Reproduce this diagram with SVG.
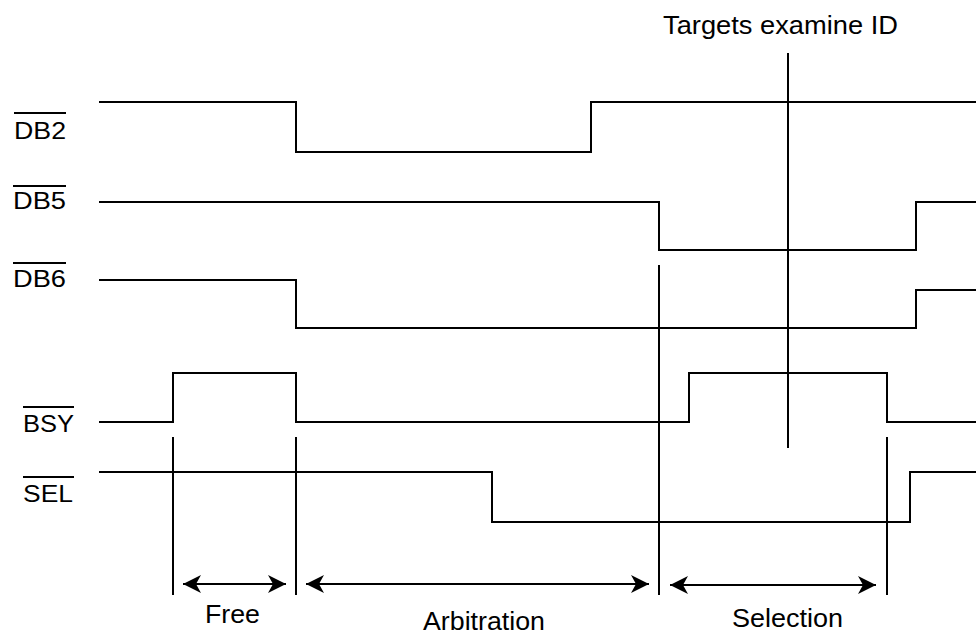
<svg xmlns="http://www.w3.org/2000/svg" width="976" height="635" viewBox="0 0 976 635">
<style>
.sig{fill:none;stroke:#000;stroke-width:2;stroke-linejoin:miter}
.mk{stroke:#000;stroke-width:2}
.ol{stroke:#000;stroke-width:2}
.lbl{font-family:"Liberation Sans",Arial,sans-serif;font-size:23px;fill:#000}
.cap{font-family:"Liberation Sans",Arial,sans-serif;font-size:26px;fill:#000}
.arr{stroke:#000;stroke-width:2;marker-start:url(#ah);marker-end:url(#ah)}
</style>
<defs>
<marker id="ah" viewBox="0 0 18 18" refX="18" refY="9" markerWidth="18" markerHeight="18" markerUnits="userSpaceOnUse" orient="auto-start-reverse">
<path d="M0,0 L18,9 L0,18 L5,9 Z" fill="#000"/>
</marker>
</defs>
<rect width="976" height="635" fill="#fff"/>
<g id="label-db2"><line class="ol" x1="14" y1="113" x2="66" y2="113"/><text class="lbl" x="14" y="139" textLength="52" lengthAdjust="spacingAndGlyphs">DB2</text></g>
<g id="label-db5"><line class="ol" x1="13" y1="186" x2="66" y2="186"/><text class="lbl" x="13" y="209" textLength="53" lengthAdjust="spacingAndGlyphs">DB5</text></g>
<g id="label-db6"><line class="ol" x1="13" y1="263" x2="66" y2="263"/><text class="lbl" x="13" y="287" textLength="53" lengthAdjust="spacingAndGlyphs">DB6</text></g>
<g id="label-bsy"><line class="ol" x1="23" y1="407" x2="74" y2="407"/><text class="lbl" x="23" y="432" textLength="51" lengthAdjust="spacingAndGlyphs">BSY</text></g>
<g id="label-sel"><line class="ol" x1="23" y1="477" x2="74" y2="477"/><text class="lbl" x="23" y="502" textLength="50" lengthAdjust="spacingAndGlyphs">SEL</text></g>
<g id="signal-db2"><path class="sig" d="M99,102 H296 V152 H591 V102 H976"/></g>
<g id="signal-db5"><path class="sig" d="M99,202 H659 V250 H916 V202 H976"/></g>
<g id="signal-db6"><path class="sig" d="M99,280 H296 V328 H916 V290 H976"/></g>
<g id="signal-bsy"><path class="sig" d="M99,422 H173 V373 H296 V422 H689 V373 H887 V422 H976"/></g>
<g id="signal-sel"><path class="sig" d="M99,472 H492 V522 H910 V472 H976"/></g>
<g id="targets"><text class="cap" x="663" y="34" textLength="235" lengthAdjust="spacingAndGlyphs">Targets examine ID</text><line class="mk" x1="788" y1="53" x2="788" y2="448"/></g>
<g id="connectors">
<line class="mk" x1="173" y1="437" x2="173" y2="595"/>
<line class="mk" x1="296" y1="437" x2="296" y2="595"/>
<line class="mk" x1="659" y1="265" x2="659" y2="595"/>
<line class="mk" x1="887" y1="437" x2="887" y2="595"/>
<line class="arr" x1="183" y1="584" x2="286" y2="584"/>
<line class="arr" x1="306" y1="584" x2="649" y2="584"/>
<line class="arr" x1="670" y1="585" x2="876" y2="585"/>
</g>
<g id="phase-free"><text class="cap" x="205" y="623" textLength="55" lengthAdjust="spacingAndGlyphs">Free</text></g>
<g id="phase-arbitration"><text class="cap" x="423" y="630" textLength="122" lengthAdjust="spacingAndGlyphs">Arbitration</text></g>
<g id="phase-selection"><text class="cap" x="732" y="627" textLength="111" lengthAdjust="spacingAndGlyphs">Selection</text></g>
</svg>
